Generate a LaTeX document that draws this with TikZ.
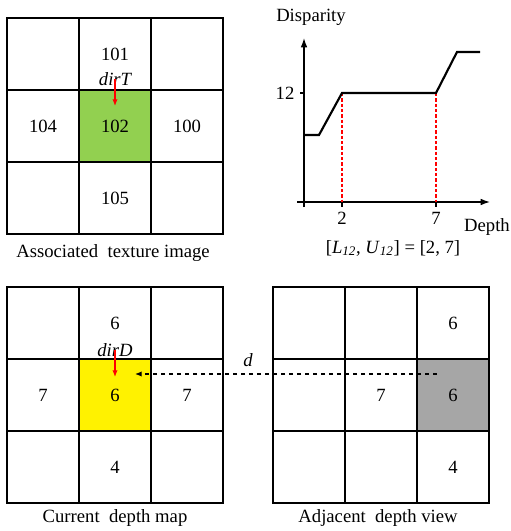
\documentclass[tikz,border=0pt]{standalone}
\usepackage{fontspec}
\setmainfont{Liberation Serif}
\usetikzlibrary{arrows.meta}
\definecolor{texgreen}{HTML}{92D050}
\definecolor{depgray}{HTML}{A6A6A6}

\begin{document}
\begin{tikzpicture}[x=0.75pt,y=-0.75pt,
  cell/.style={rectangle,draw,line width=1pt,minimum size=54pt,inner sep=0pt,font=\fontsize{14}{16}\selectfont},
  lbl/.style={inner sep=1pt,font=\fontsize{14}{16}\selectfont},
  dirarr/.style={-{Latex[length=5pt,width=4pt]},red,line width=0.9pt},
  axis/.style={-{Latex[length=7pt,width=5pt]},line width=1pt},
  curve/.style={line width=1.6pt},
  guide/.style={red,line width=0.9pt,dash pattern=on 2.5pt off 1.5pt}]
  \useasboundingbox (0,0) rectangle (510,531);
  % associated texture image
  \foreach \c/\r/\txt/\fc in {0/0/{}/white,1/0/101/white,2/0/{}/white,
      0/1/104/white,1/1/102/texgreen,2/1/100/white,
      0/2/{}/white,1/2/105/white,2/2/{}/white}
    \node[cell,fill=\fc] (t\c\r) at ({43+72*\c},{54+72*\r}) {\txt};
  \node[lbl,font=\fontsize{14}{16}\selectfont\itshape] (dirT) at (115,79) {dirT};
  \coordinate (dirTb) at (115,106);
  \draw[dirarr] (dirT.center) -- (dirTb);
  \node[lbl] (capT) at (113,253) {Associated\ \ texture image};
  % current depth map
  \foreach \c/\r/\txt/\fc in {0/0/{}/white,1/0/6/white,2/0/{}/white,
      0/1/7/white,1/1/6/yellow,2/1/7/white,
      0/2/{}/white,1/2/4/white,2/2/{}/white}
    \node[cell,fill=\fc] (c\c\r) at ({43+72*\c},{323+72*\r}) {\txt};
  \node[lbl,font=\fontsize{14}{16}\selectfont\itshape] (dirD) at (115,350) {dirD};
  \coordinate (dirDb) at (115,377);
  \draw[dirarr] (dirD.center) -- (dirDb);
  \node[lbl] (capC) at (115,518) {Current\ \ depth map};
  % adjacent depth view
  \foreach \c/\r/\txt/\fc in {0/0/{}/white,1/0/{}/white,2/0/6/white,
      0/1/{}/white,1/1/7/white,2/1/6/depgray,
      0/2/{}/white,1/2/{}/white,2/2/4/white}
    \node[cell,fill=\fc] (a\c\r) at ({309+72*\c},{323+72*\r}) {\txt};
  \node[lbl] (capA) at (378,518) {Adjacent\ \ depth view};
  % disparity vector
  \coordinate (dfrom) at (437,374);
  \coordinate (dto) at (135,374);
  \draw[-{Latex[length=5pt,width=4pt]},line width=0.9pt,dashed] (dfrom) -- (dto);
  \node[lbl,font=\fontsize{14}{16}\selectfont\itshape] (dlbl) at (248,360) {d};
  % disparity-depth plot
  \draw[axis] (297,202) -- (490,202);
  \draw[axis] (304,207) -- (304,38);
  \draw[line width=1pt] (300,93) -- (304,93);
  \draw[line width=1pt] (342,202) -- (342,207) (436,202) -- (436,207);
  \draw[guide] (342,93) -- (342,202) (436,93) -- (436,202);
  \draw[curve] (304,135) -- (319,135) -- (342,93) -- (436,93) -- (457,52) -- (480,52);
  \node[lbl] (ylbl) at (311,17) {Disparity};
  \node[lbl] (y12) at (285,93) {12};
  \node[lbl] (x2) at (342,218) {2};
  \node[lbl] (x7) at (436,218) {7};
  \node[lbl] (xlbl) at (487,227) {Depth};
  \node[lbl] (rng) at (393,248) {[\textit{L}\textsubscript{\textit{12}}, \textit{U}\textsubscript{\textit{12}}] = [2, 7]};
\end{tikzpicture}
\end{document}
